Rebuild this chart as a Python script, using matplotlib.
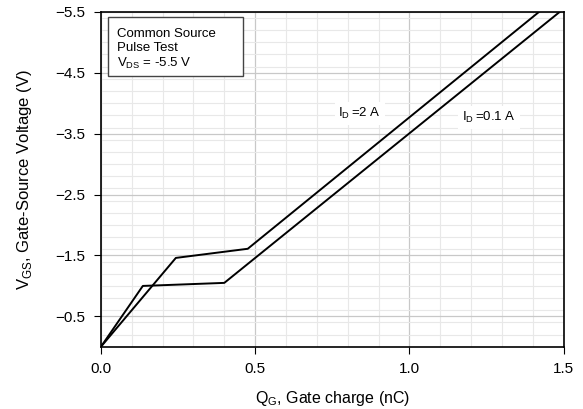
import matplotlib.pyplot as plt
from matplotlib.patches import Rectangle
from matplotlib.ticker import MultipleLocator

plt.rcParams['font.family'] = ['Liberation Sans', 'DejaVu Sans']

# gate charge curves, Qg (nC) vs Vgs (V)
qg_2a = [0.0, 0.243, 0.476, 1.42]
vgs_2a = [0.0, -1.46, -1.61, -5.5]
qg_01a = [0.0, 0.136, 0.40, 1.487]
vgs_01a = [0.0, -1.00, -1.05, -5.5]

yticks = [-0.5, -1.5, -2.5, -3.5, -4.5, -5.5]
xticks = [0.0, 0.5, 1.0, 1.5]

fig = plt.figure(figsize=(5.83, 4.09), dpi=100)
ax = fig.add_axes([0.173, 0.152, 0.794, 0.819])

ax.plot(qg_2a, vgs_2a, color='black', lw=1.4)
ax.plot(qg_01a, vgs_01a, color='black', lw=1.4)

ax.set_xlim(0, 1.5)
ax.set_ylim(0, -5.5)
ax.set_xticks(xticks)
ax.set_xticklabels([f'{v:.1f}' for v in xticks])
ax.set_yticks(yticks)
ax.set_yticklabels([f'{v:.1f}'.replace('-', '\u2212') for v in yticks])
ax.xaxis.set_minor_locator(MultipleLocator(0.1))
ax.yaxis.set_minor_locator(MultipleLocator(0.2))
ax.grid(which='major', color='#c8c8c8', lw=0.9)
ax.grid(which='minor', color='#e8e8e8', lw=0.8)
ax.set_axisbelow(True)
ax.tick_params(which='minor', length=0)
ax.tick_params(which='major', length=5, labelsize=11, color='black', pad=6)
for s in ax.spines.values():
    s.set_linewidth(1.2)

ax.set_xlabel('Q$_\\mathregular{G}$, Gate charge (nC)', fontsize=11.5, labelpad=9)
ax.set_ylabel('V$_\\mathregular{GS}$, Gate-Source Voltage (V)', fontsize=12)
ax.yaxis.set_label_coords(-0.145, 0.5)

# info box
ax.add_patch(Rectangle((0.015, 0.809), 0.292, 0.176, transform=ax.transAxes,
                       fc='white', ec='#444444', lw=1, zorder=3))
ax.text(0.034, 0.952, 'Common Source\nPulse Test\nV$_\\mathregular{DS}$ = -5.5 V',
        transform=ax.transAxes, fontsize=9.5, va='top', ha='left',
        linespacing=1.22, zorder=4)

ax.text(0.77, -3.83, 'I$_\\mathregular{D}$$\\,$=2 A', fontsize=9.5, ha='left', va='center',
        bbox=dict(boxstyle='square,pad=0.3', fc='white', ec='none'))
ax.text(1.17, -3.77, 'I$_\\mathregular{D}$$\\,$=0.1 A', fontsize=9.5, ha='left', va='center',
        bbox=dict(boxstyle='square,pad=0.3', fc='white', ec='none'))

fig.savefig('out.png', dpi=100)
